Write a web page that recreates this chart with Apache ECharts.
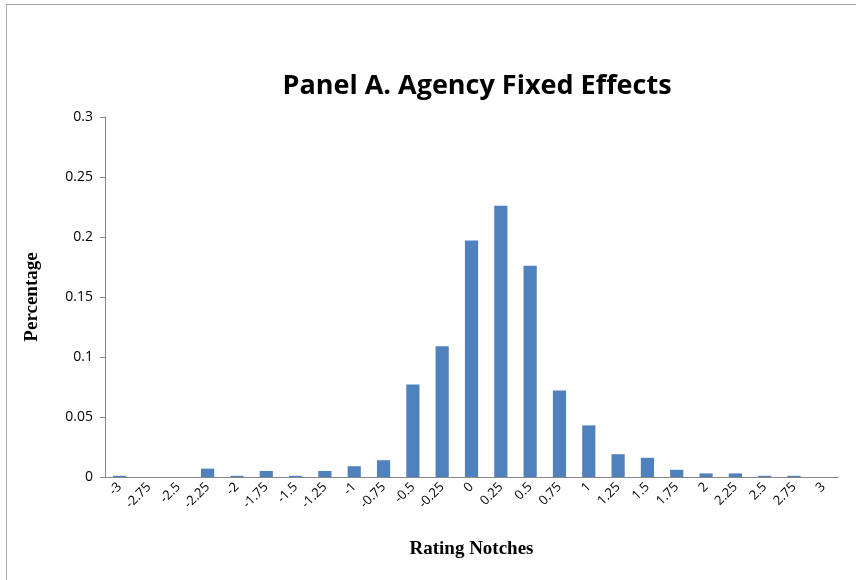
<!DOCTYPE html>
<html>
<head>
<meta charset="utf-8">
<script src="https://cdn.jsdelivr.net/npm/echarts@6/dist/echarts.min.js"></script>
<style>
  html, body { margin: 0; padding: 0; background: #fff; }
  #chart { width: 856px; height: 580px; }
</style>
</head>
<body>
<div id="chart"></div>
<script>
var notches = ['-3', '-2.75', '-2.5', '-2.25', '-2', '-1.75', '-1.5', '-1.25', '-1', '-0.75',
    '-0.5', '-0.25', '0', '0.25', '0.5', '0.75', '1', '1.25', '1.5', '1.75',
    '2', '2.25', '2.5', '2.75', '3'];
var shares = [0.001, 0, 0, 0.007, 0.001, 0.005, 0.001, 0.005, 0.009, 0.014,
    0.077, 0.109, 0.197, 0.226, 0.176, 0.072, 0.043, 0.019, 0.016, 0.006,
    0.003, 0.003, 0.001, 0.001, 0];

var chart = echarts.init(document.getElementById('chart'), null, { renderer: 'canvas' });

var option = {
    animation: false,
    backgroundColor: '#fff',
    title: {
        text: 'Panel A. Agency Fixed Effects',
        left: 472,
        top: 68,
        textAlign: 'center',
        textStyle: {
            fontFamily: 'Open Sans',
            fontWeight: 'bold',
            fontSize: 27,
            color: '#000'
        }
    },
    graphic: [
        // thin frame on top and left, like the pasted screenshot
        { type: 'line', shape: { x1: 6, y1: 4.5, x2: 856, y2: 4.5 }, style: { stroke: '#a6a6a6', lineWidth: 1 } },
        { type: 'line', shape: { x1: 6.5, y1: 4, x2: 6.5, y2: 580 }, style: { stroke: '#a6a6a6', lineWidth: 1 } }
    ],
    grid: {
        left: 105,
        right: 18,
        top: 117,
        bottom: 103
    },
    xAxis: {
        type: 'category',
        data: notches,
        boundaryGap: true,
        name: 'Rating Notches',
        nameLocation: 'middle',
        nameGap: 63,
        nameTextStyle: {
            fontFamily: 'Liberation Serif',
            fontWeight: 'bold',
            fontSize: 19,
            color: '#000'
        },
        axisLine: { lineStyle: { color: '#868686' } },
        axisTick: { alignWithLabel: false, length: 5, lineStyle: { color: '#868686' } },
        axisLabel: {
            rotate: 45,
            interval: 0,
            margin: 8,
            fontFamily: 'Open Sans',
            fontSize: 13,
            color: '#000'
        }
    },
    yAxis: {
        type: 'value',
        min: 0,
        max: 0.3,
        interval: 0.05,
        name: 'Percentage',
        nameLocation: 'middle',
        nameGap: 63,
        nameTextStyle: {
            fontFamily: 'Liberation Serif',
            fontWeight: 'bold',
            fontSize: 19,
            color: '#000'
        },
        axisLine: { show: true, lineStyle: { color: '#868686' } },
        axisTick: { show: true, length: 5, lineStyle: { color: '#868686' } },
        splitLine: { show: false },
        axisLabel: {
            margin: 12,
            fontFamily: 'Open Sans',
            fontSize: 14,
            color: '#000',
            formatter: function (v) {
                return String(Math.round(v * 100) / 100);
            }
        }
    },
    series: [{
        type: 'bar',
        data: shares,
        barWidth: '45%',
        itemStyle: { color: '#4f81bd' }
    }]
};

chart.setOption(option);
</script>
</body>
</html>
